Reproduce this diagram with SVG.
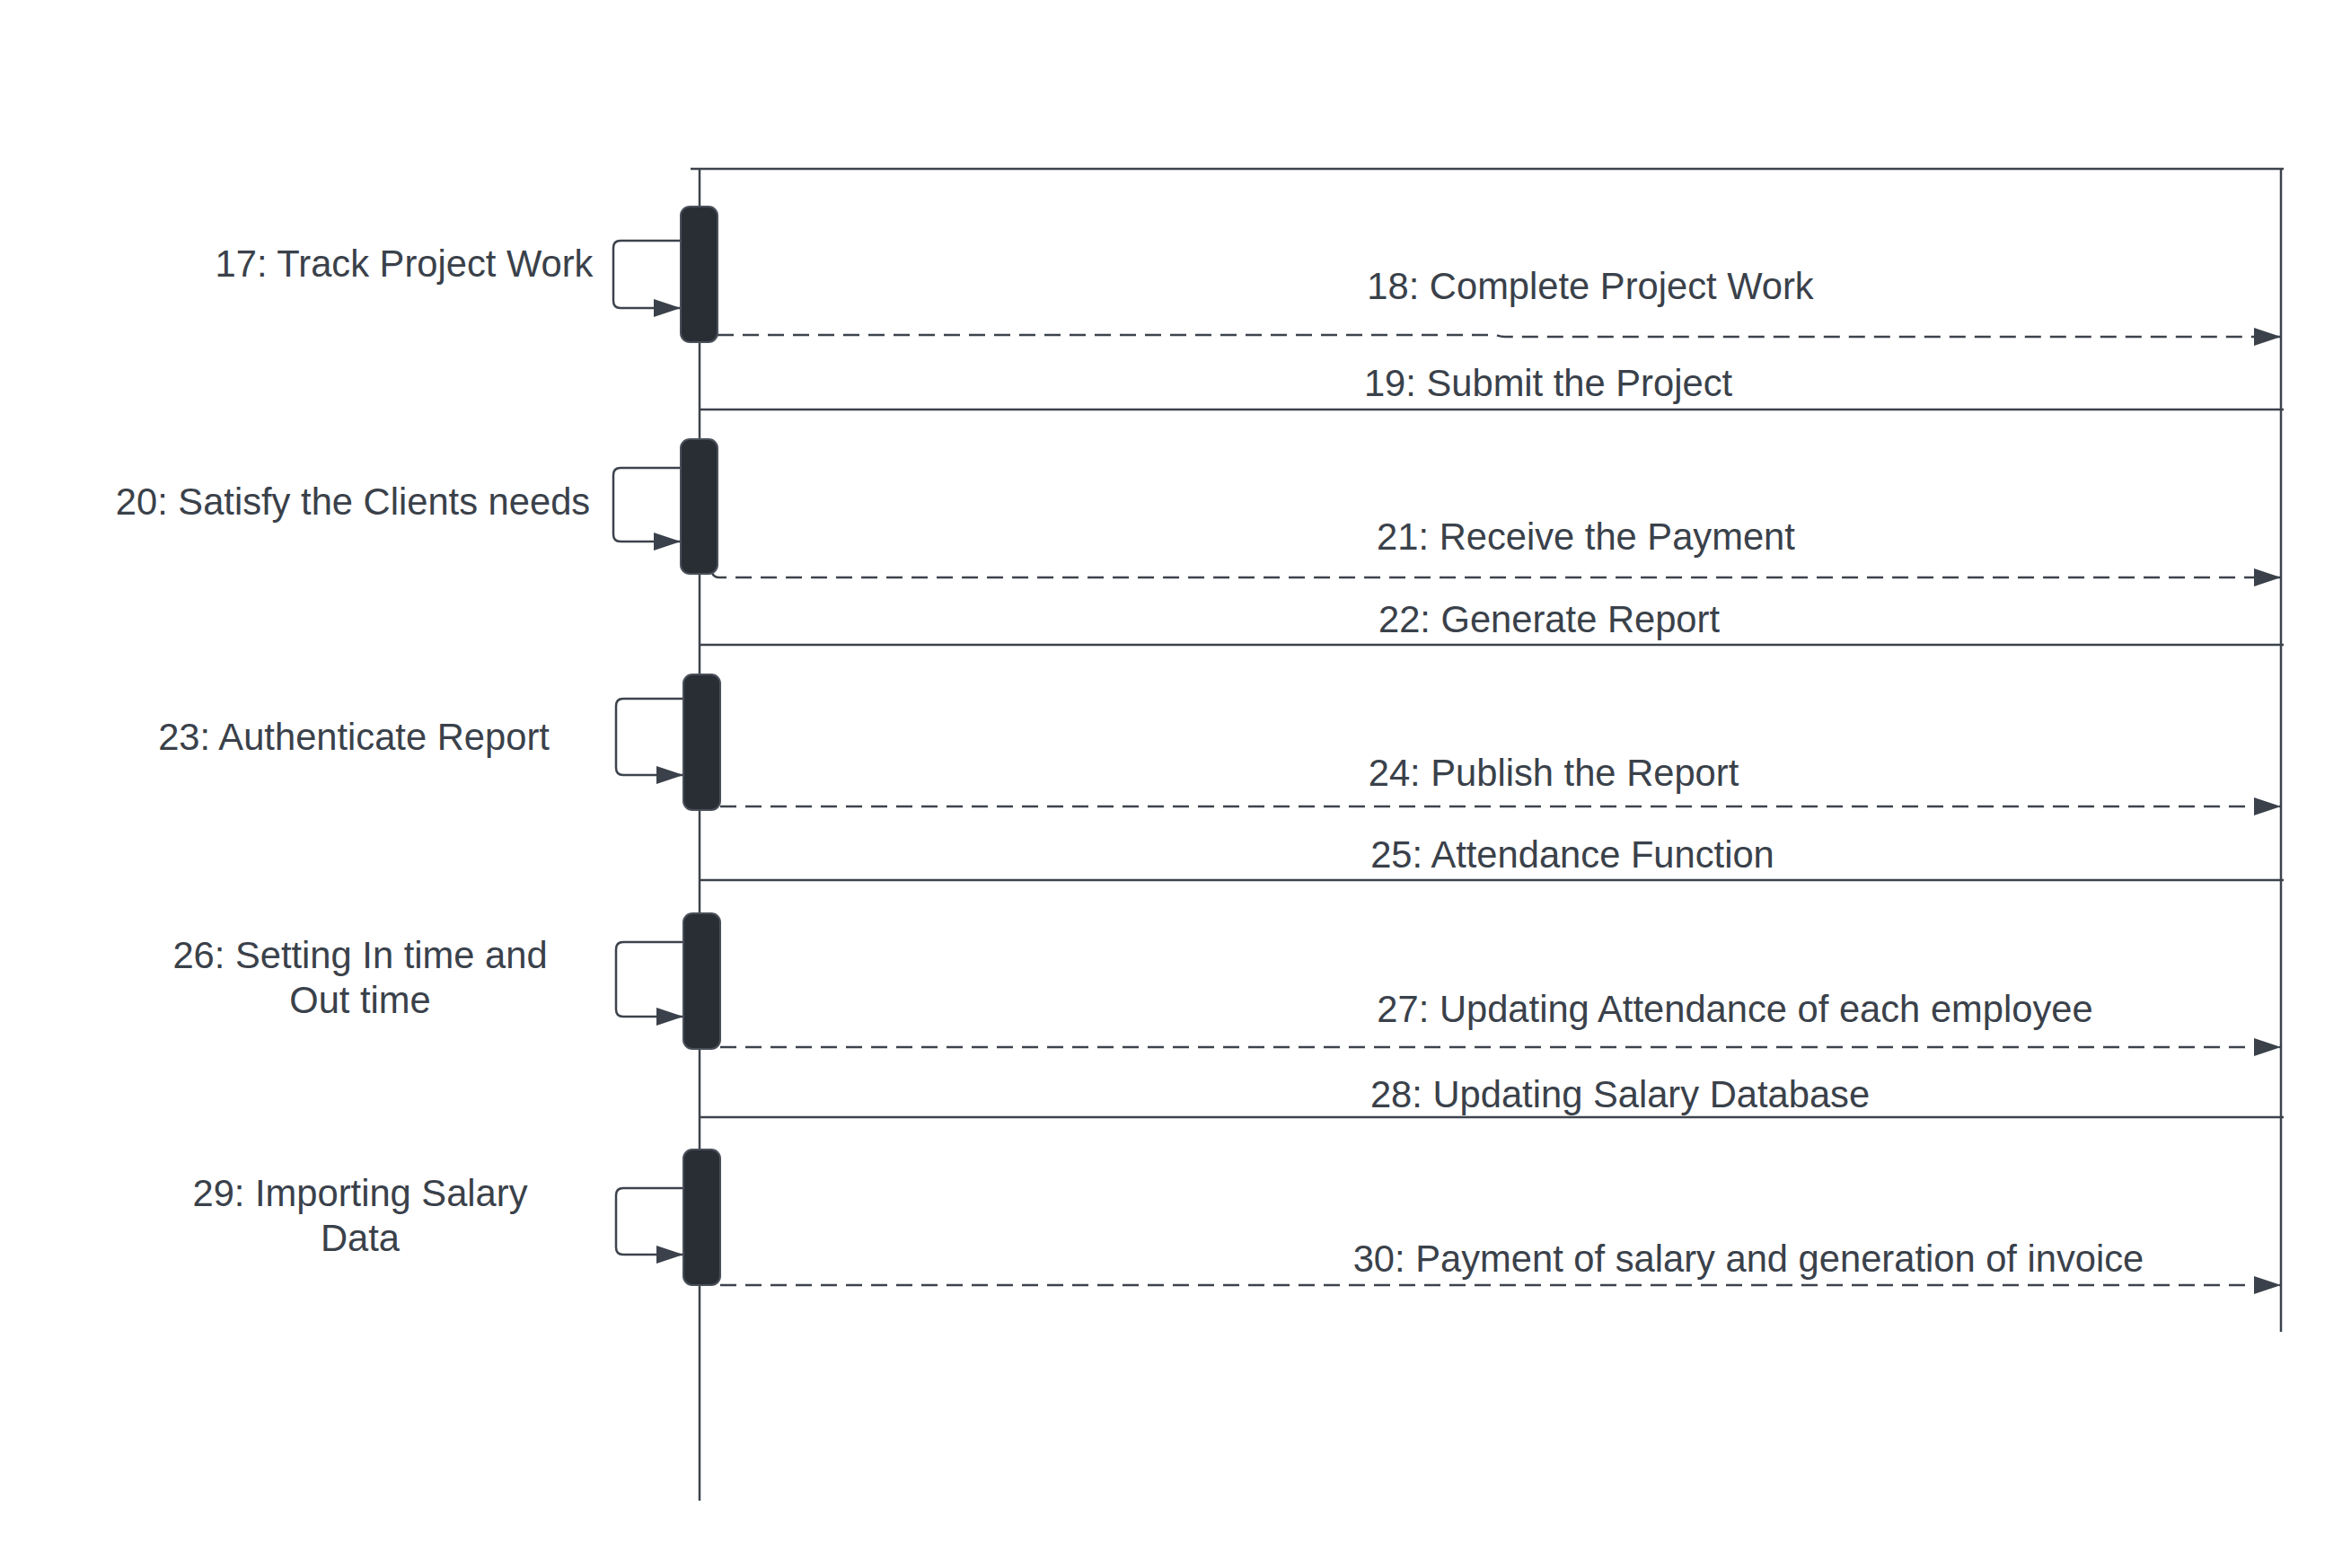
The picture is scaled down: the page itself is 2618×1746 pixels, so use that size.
<svg xmlns="http://www.w3.org/2000/svg" width="2618" height="1746" viewBox="0 0 2618 1746">
<style>
.ln{fill:none;stroke:#3d434c;stroke-width:2.5}
.dash{fill:none;stroke:#3d434c;stroke-width:2.5;stroke-dasharray:18 10}
.act{fill:#292d34;stroke:#4a505a;stroke-width:2}
.t{font-family:"Liberation Sans",Arial,sans-serif;font-size:41.7px;fill:#3a414a;text-anchor:middle}
</style>
<defs>
<marker id="ah" markerUnits="userSpaceOnUse" markerWidth="32" markerHeight="22" refX="30" refY="10" orient="auto">
<path d="M0,0 L30,10 L0,20 Z" fill="#3a414a"/>
</marker>
</defs>
<rect width="2618" height="1746" fill="#ffffff"/>
<g id="frame">
<path class="ln" d="M769,188 L2543,188"/>
<path class="ln" d="M779,188 L779,1671"/>
<path class="ln" d="M2540,188 L2540,1483"/>
<path class="ln" d="M779,456 L2543,456"/>
<path class="ln" d="M779,718 L2543,718"/>
<path class="ln" d="M779,980 L2543,980"/>
<path class="ln" d="M779,1244 L2543,1244"/>
</g>
<g id="connectors">
<path class="ln" d="M758,268 L691,268 Q683,268 683,276 L683,335 Q683,343 691,343 L758,343" marker-end="url(#ah)"/>
<path class="ln" d="M758,521 L691,521 Q683,521 683,529 L683,595 Q683,603 691,603 L758,603" marker-end="url(#ah)"/>
<path class="ln" d="M761,778 L694,778 Q686,778 686,786 L686,855 Q686,863 694,863 L761,863" marker-end="url(#ah)"/>
<path class="ln" d="M761,1049 L694,1049 Q686,1049 686,1057 L686,1124 Q686,1132 694,1132 L761,1132" marker-end="url(#ah)"/>
<path class="ln" d="M761,1323 L694,1323 Q686,1323 686,1331 L686,1389 Q686,1397 694,1397 L761,1397" marker-end="url(#ah)"/>
<path class="dash" d="M799,373 L1666,373 Q1671,375 1676,375 L2540,375" marker-end="url(#ah)"/>
<path class="dash" d="M793,638 Q795,643 801,643 L2540,643" marker-end="url(#ah)"/>
<path class="dash" d="M802,898 L2540,898" marker-end="url(#ah)"/>
<path class="dash" d="M802,1166 L2540,1166" marker-end="url(#ah)"/>
<path class="dash" d="M802,1431 L2540,1431" marker-end="url(#ah)"/>
</g>
<g id="act1"><rect class="act" x="758" y="230" width="41" height="151" rx="10"/></g>
<g id="act2"><rect class="act" x="758" y="489" width="41" height="150" rx="10"/></g>
<g id="act3"><rect class="act" x="761" y="751" width="41" height="151" rx="10"/></g>
<g id="act4"><rect class="act" x="761" y="1017" width="41" height="151" rx="10"/></g>
<g id="act5"><rect class="act" x="761" y="1280" width="41" height="151" rx="10"/></g>
<g id="labels">
<text class="t" x="450" y="308">17: Track Project Work</text>
<text class="t" x="1771" y="333">18: Complete Project Work</text>
<text class="t" x="1724" y="441">19: Submit the Project</text>
<text class="t" x="393" y="573">20: Satisfy the Clients needs</text>
<text class="t" x="1766" y="612">21: Receive the Payment</text>
<text class="t" x="1725" y="704">22: Generate Report</text>
<text class="t" x="394" y="835">23: Authenticate Report</text>
<text class="t" x="1730" y="875">24: Publish the Report</text>
<text class="t" x="1751" y="966">25: Attendance Function</text>
<text class="t" x="401" y="1078">26: Setting In time and</text>
<text class="t" x="401" y="1128">Out time</text>
<text class="t" x="1932" y="1138">27: Updating Attendance of each employee</text>
<text class="t" x="1804" y="1233">28: Updating Salary Database</text>
<text class="t" x="401" y="1343">29: Importing Salary</text>
<text class="t" x="401" y="1393">Data</text>
<text class="t" x="1947" y="1416">30: Payment of salary and generation of invoice</text>
</g>
</svg>
